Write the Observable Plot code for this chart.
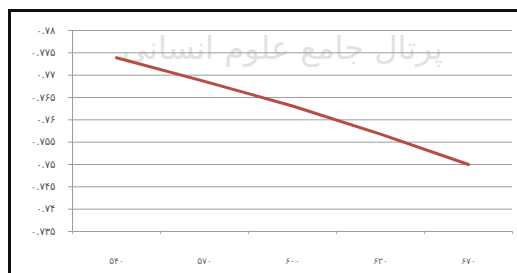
<!DOCTYPE html>
<html>
<head>
<meta charset="utf-8">
<script src="https://cdn.jsdelivr.net/npm/d3@7"></script>
<script src="https://cdn.jsdelivr.net/npm/@observablehq/plot@0.6"></script>
<style>
  html, body { margin: 0; padding: 0; background: #fff; }
  #wrap { position: relative; width: 517px; height: 273px; overflow: hidden; }
  #border { position: absolute; left: 8px; top: 9px; right: -5px; bottom: -5px;
            border-top: 3px solid #111; border-left: 3px solid #111; pointer-events: none; }
</style>
</head>
<body>
<div id="wrap"><div id="border"></div></div>
<script>
const categories = ["540", "570", "600", "630", "670"];
const values = [0.7739, 0.7686, 0.7631, 0.7568, 0.7500];
const yTicks = [0.735, 0.74, 0.745, 0.75, 0.755, 0.76, 0.765, 0.77, 0.775, 0.78];
const watermark = ["پرتال جامع علوم انسانی"];

const faDigits = "۰۱۲۳۴۵۶۷۸۹";
const toFa = s => String(s).replace(/[0-9]/g, d => faDigits[+d]);

const data = categories.map((c, i) => ({i, c, v: values[i]}));
const idx = d3.range(categories.length);
const bounds = d3.range(categories.length + 1).map(i => i - 0.5);

const chart = Plot.plot({
  width: 517,
  height: 273,
  marginLeft: 72,
  marginRight: 5,
  marginTop: 30,
  marginBottom: 42,
  style: {background: "transparent", fontFamily: "DejaVu Sans", fontSize: "10px", color: "#555"},
  x: {type: "linear", domain: [-0.5, categories.length - 0.5], axis: null, label: null},
  y: {domain: [0.735, 0.78], axis: null, label: null},
  marks: [
    Plot.text(watermark, {frameAnchor: "top", dx: -10, dy: 6, fill: "#e2e2e2", fontSize: 32, fontFamily: "DejaVu Sans"}),
    Plot.ruleY(yTicks, {stroke: "#9d9d9d", strokeWidth: 1}),
    Plot.axisY({ticks: yTicks, tickSize: 4, tickPadding: 13, tickFormat: toFa, stroke: "#9d9d9d", fill: "#555", fontSize: 10, label: null}),
    Plot.ruleX([-0.5], {stroke: "#9d9d9d"}),
    Plot.ruleX(bounds, {y1: 0.735, y2: 0.7343, stroke: "#b0b0b0"}),
    Plot.axisX({ticks: idx, tickSize: 0, tickPadding: 26, tickFormat: i => toFa(categories[i]), fill: "#666", fontSize: 9, label: null}),
    Plot.line(data, {x: "i", y: "v", stroke: "#b94a45", strokeWidth: 3})
  ]
});
document.getElementById("wrap").prepend(chart);
</script>
</body>
</html>
